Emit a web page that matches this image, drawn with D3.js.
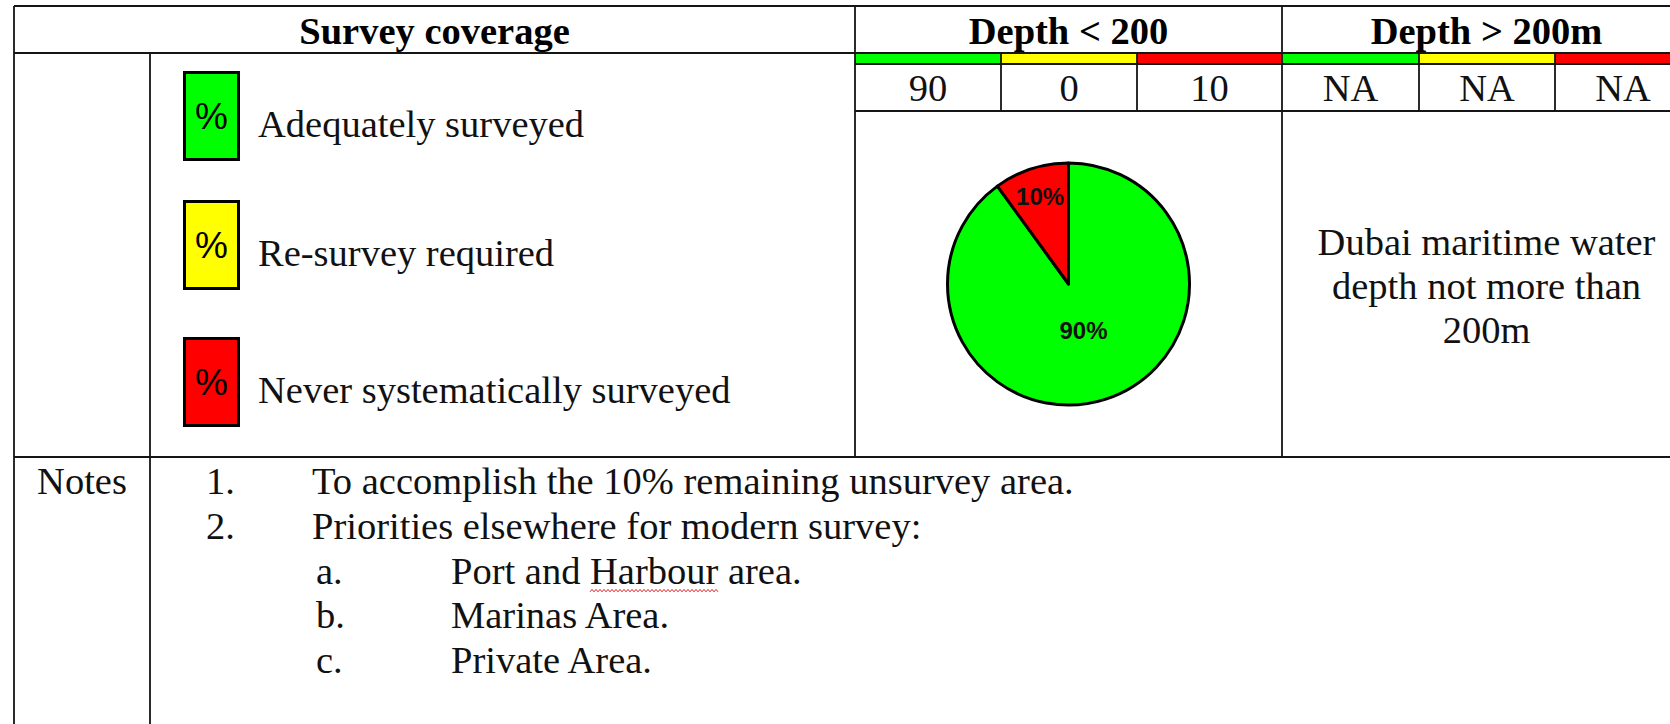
<!DOCTYPE html>
<html>
<head>
<meta charset="utf-8">
<script src="https://cdn.jsdelivr.net/npm/d3@7"></script>
<style>
  html, body { margin: 0; padding: 0; background: #fff; overflow: hidden; }
  svg { display: block; }
</style>
</head>
<body>
<svg id="coverage"></svg>
<script>
// survey categories and the colour used for each
const categories = ["Adequately surveyed", "Re-survey required", "Never systematically surveyed"];
const catColors = ["#00ff00", "#ffff00", "#ff0000"];

// percentages per depth band (same order as categories)
const shallowValues = [90, 0, 10];
const deepValues = ["NA", "NA", "NA"];

const headers = ["Survey coverage", "Depth < 200", "Depth > 200m"];
const deepNote = ["Dubai maritime water", "depth not more than", "200m"];

const noteNums = ["1.", "2.", "a.", "b.", "c."];
const noteTexts = [
    "To accomplish the 10% remaining unsurvey area.",
    "Priorities elsewhere for modern survey:",
    "Port and Harbour area.",
    "Marinas Area.",
    "Private Area."
];
const noteLevels = [0, 0, 1, 1, 1];

function drawTable(containerId) {
    const width = 1670;
    const height = 724;
    const serif = "'Times New Roman', 'Liberation Serif', serif";
    const sans = "Arial, 'Liberation Sans', sans-serif";
    const fs = 38.5;

    // table grid
    const colX = [14, 150, 855, 1282, 1691];
    const rowY = [6, 53, 64, 111, 457, 800];
    const shallowEdges = [855, 1001, 1137, 1282];
    const deepEdges = [1282, 1419, 1555, 1691];

    const color = d3.scaleOrdinal().domain(categories).range(catColors);
    const shallowX = d3.scaleOrdinal().domain(categories).range(shallowEdges.slice(0, 3));
    const shallowX2 = d3.scaleOrdinal().domain(categories).range(shallowEdges.slice(1));
    const deepX = d3.scaleOrdinal().domain(categories).range(deepEdges.slice(0, 3));
    const deepX2 = d3.scaleOrdinal().domain(categories).range(deepEdges.slice(1));

    const svg = d3.select(containerId)
        .attr("width", width)
        .attr("height", height)
        .attr("viewBox", [0, 0, width, height]);

    // colour strips under the depth headers
    [[shallowX, shallowX2], [deepX, deepX2]].forEach(([x0, x1]) => {
        svg.append("g")
            .selectAll("rect")
            .data(categories)
            .join("rect")
            .attr("x", d => x0(d))
            .attr("y", rowY[1])
            .attr("width", d => x1(d) - x0(d))
            .attr("height", rowY[2] - rowY[1])
            .attr("fill", color);
    });

    // grid lines
    const lines = [
        [colX[0], rowY[0], colX[4], rowY[0]],
        [colX[0], rowY[1], colX[4], rowY[1]],
        [colX[2], rowY[2], colX[4], rowY[2]],
        [colX[2], rowY[3], colX[4], rowY[3]],
        [colX[0], rowY[4], colX[4], rowY[4]],
        [colX[0], rowY[0], colX[0], rowY[5]],
        [colX[1], rowY[1], colX[1], rowY[5]],
        [colX[2], rowY[0], colX[2], rowY[4]],
        [colX[3], rowY[0], colX[3], rowY[4]]
    ];
    shallowEdges.slice(1, 3).concat(deepEdges.slice(1, 3)).forEach(x => lines.push([x, rowY[1], x, rowY[3]]));

    svg.append("g")
        .attr("stroke", "#151515")
        .attr("stroke-width", 1.8)
        .selectAll("line")
        .data(lines)
        .join("line")
        .attr("x1", d => d[0]).attr("y1", d => d[1])
        .attr("x2", d => d[2]).attr("y2", d => d[3]);

    // headers
    const headerCenters = [(colX[0] + colX[2]) / 2, (colX[2] + colX[3]) / 2, (colX[3] + colX[4]) / 2];
    svg.append("g")
        .attr("font-family", serif)
        .attr("font-weight", "bold")
        .attr("font-size", fs)
        .attr("text-anchor", "middle")
        .selectAll("text")
        .data(headers)
        .join("text")
        .attr("x", (d, i) => headerCenters[i])
        .attr("y", 44)
        .text(d => d);

    // value row
    const valueRow = svg.append("g")
        .attr("font-family", serif)
        .attr("font-size", fs)
        .attr("text-anchor", "middle")
        .attr("fill", "#111");
    valueRow.selectAll(".shallow")
        .data(categories)
        .join("text")
        .attr("class", "shallow")
        .attr("x", d => (shallowX(d) + shallowX2(d)) / 2)
        .attr("y", 101)
        .text((d, i) => shallowValues[i]);
    valueRow.selectAll(".deep")
        .data(categories)
        .join("text")
        .attr("class", "deep")
        .attr("x", d => (deepX(d) + deepX2(d)) / 2)
        .attr("y", 101)
        .text((d, i) => deepValues[i]);

    // legend
    const legendTop = [71, 200, 337];
    const legend = svg.append("g")
        .selectAll("g")
        .data(categories)
        .join("g")
        .attr("transform", (d, i) => `translate(183,${legendTop[i]})`);
    legend.append("rect")
        .attr("x", 1.5).attr("y", 1.5)
        .attr("width", 54).attr("height", 87)
        .attr("fill", color)
        .attr("stroke", "#000")
        .attr("stroke-width", 3);
    legend.append("text")
        .attr("x", 28.5)
        .attr("y", 58)
        .attr("text-anchor", "middle")
        .attr("font-family", sans)
        .attr("font-size", 37)
        .text("%");
    legend.append("text")
        .attr("x", 75)
        .attr("y", 66)
        .attr("font-family", serif)
        .attr("font-size", fs)
        .attr("fill", "#111")
        .text(d => d);

    // pie for depth < 200
    const cx = (colX[2] + colX[3]) / 2;
    const cy = (rowY[3] + rowY[4]) / 2;
    const radius = 121;
    const pie = d3.pie().sort(null).value(d => d.value);
    const arcs = pie(categories.map((c, i) => ({ cat: c, value: shallowValues[i] })))
        .filter(d => d.value > 0);
    const arc = d3.arc().innerRadius(0).outerRadius(radius);

    const pieG = svg.append("g").attr("transform", `translate(${cx},${cy})`);
    pieG.selectAll("path")
        .data(arcs)
        .join("path")
        .attr("d", arc)
        .attr("fill", d => color(d.data.cat))
        .attr("stroke", "#000")
        .attr("stroke-width", 3)
        .attr("stroke-linejoin", "round");
    pieG.selectAll("text")
        .data(arcs)
        .join("text")
        .attr("transform", d => {
            const share = (d.endAngle - d.startAngle) / (2 * Math.PI);
            const lr = share < 0.5 ? radius * 0.76 : radius * 0.4;
            return `translate(${d3.arc().innerRadius(lr).outerRadius(lr).centroid(d)})`;
        })
        .attr("dy", "0.36em")
        .attr("text-anchor", "middle")
        .attr("font-family", sans)
        .attr("font-weight", "bold")
        .attr("font-size", 24)
        .attr("fill", "#111")
        .text(d => `${d.value}%`);

    // text for depth > 200m
    svg.append("g")
        .attr("font-family", serif)
        .attr("font-size", fs)
        .attr("text-anchor", "middle")
        .attr("fill", "#111")
        .selectAll("text")
        .data(deepNote)
        .join("text")
        .attr("x", headerCenters[2])
        .attr("y", (d, i) => 255 + i * 44)
        .text(d => d);

    // notes
    const notes = svg.append("g")
        .attr("font-family", serif)
        .attr("font-size", fs)
        .attr("fill", "#111");
    const step = 44.8;
    notes.append("text")
        .attr("x", (colX[0] + colX[1]) / 2)
        .attr("y", 494)
        .attr("text-anchor", "middle")
        .text("Notes");
    notes.selectAll(".num")
        .data(noteNums)
        .join("text")
        .attr("class", "num")
        .attr("x", (d, i) => noteLevels[i] ? 316 : 206)
        .attr("y", (d, i) => 494 + i * step)
        .text(d => d);
    const noteLines = notes.selectAll(".line")
        .data(noteTexts)
        .join("text")
        .attr("class", "line")
        .attr("x", (d, i) => noteLevels[i] ? 451 : 312)
        .attr("y", (d, i) => 494 + i * step)
        .text(d => d);

    // spell-check squiggle under "Harbour"
    const portLine = noteLines.nodes()[2];
    const sx = 451 + portLine.getSubStringLength(0, 9);
    const sw = portLine.getSubStringLength(9, 7);
    const sy = 494 + 2 * step + 7;
    const pts = d3.range(0, Math.floor(sw / 2) + 1).map(k => [sx + k * 2, sy + (k % 2 ? -1.2 : 1.2)]);
    svg.append("path")
        .attr("d", d3.line()(pts))
        .attr("fill", "none")
        .attr("stroke", "#e02020")
        .attr("stroke-width", 1);
}

drawTable("#coverage");
</script>
</body>
</html>
